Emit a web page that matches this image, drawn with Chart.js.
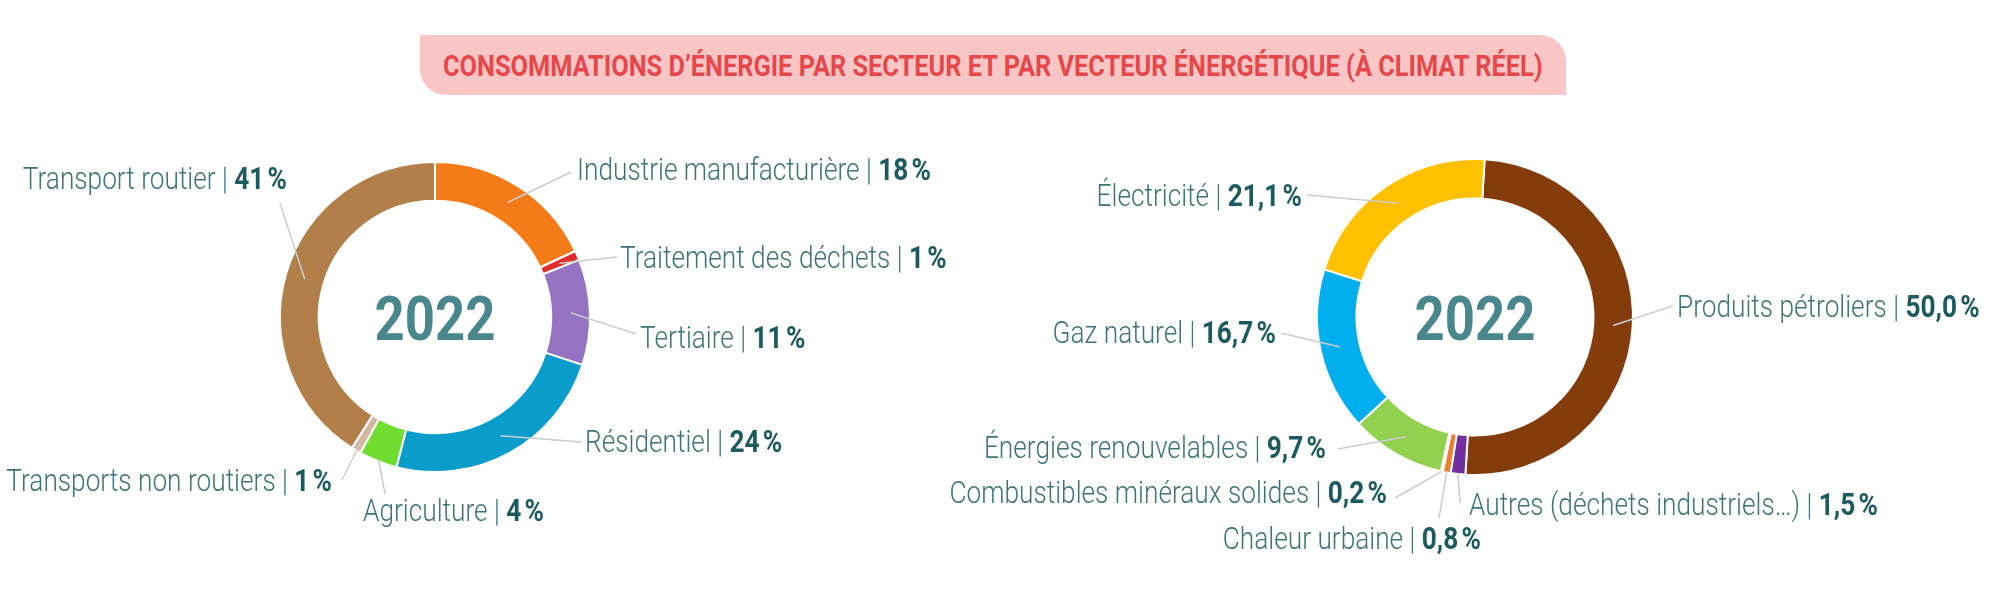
<!DOCTYPE html>
<html>
<head>
<meta charset="utf-8">
<script src="https://cdn.jsdelivr.net/npm/chart.js"></script>
<style>
  html, body { margin: 0; padding: 0; background: #fff; }
  #wrap { position: relative; width: 2000px; height: 601px; overflow: hidden; }
  #wrap canvas { position: absolute; left: 0; top: 0; }
  #title {
    position: absolute; left: 420px; top: 35px; width: 1146px; height: 60px;
    background: #f9c6c5; border-radius: 0 26px 0 26px;
    display: flex; align-items: center; justify-content: center; overflow: hidden;
  }
  #title span {
    display: inline-block; white-space: nowrap;
    font-family: Roboto, "Noto Sans", sans-serif; font-weight: 700; font-size: 30px;
    color: #e6474b; transform-origin: center center;
  }
</style>
</head>
<body>
<div id="wrap">
  <div id="title"><span>CONSOMMATIONS D’ÉNERGIE PAR SECTEUR ET PAR VECTEUR ÉNERGÉTIQUE (À CLIMAT RÉEL)</span></div>
  <canvas id="sectorChart" width="2000" height="601"></canvas>
  <canvas id="vectorChart" width="2000" height="601"></canvas>
</div>
<script>
// --- data ---
const yearLabel = '2022';

const sectorNames = ['Industrie manufacturière', 'Traitement des déchets', 'Tertiaire', 'Résidentiel',
  'Agriculture', 'Transports non routiers', 'Transport routier'];
const sectorValues = [18, 1, 11, 24, 4, 1, 41];

const vectorNames = ['Produits pétroliers', 'Autres (déchets industriels…)', 'Chaleur urbaine',
  'Combustibles minéraux solides', 'Énergies renouvelables', 'Gaz naturel', 'Électricité'];
const vectorValues = [50.0, 1.5, 0.8, 0.2, 9.7, 16.7, 21.1];

// --- styles ---
const sectorColors = ['#f47b17', '#e32b2b', '#9373c2', '#0a9dcb', '#70dd30', '#d3b7a0', '#b07f4a'];
const vectorColors = ['#843c0c', '#7030a0', '#ed7d31', '#c8c8c8', '#92d050', '#00aeef', '#ffc000'];

// label layout: [anchor x, baseline y, align, line start x, line start y, radial position of line end]
const sectorLayout = [
  [577, 180, 'left', 571, 172, 0.5],
  [620, 268, 'left', 617, 257, 0.5],
  [640, 348, 'left', 636, 334, 0.5],
  [585, 452, 'left', 582, 442, 0.5],
  [363, 521, 'left', 385, 494, 0.95],
  [332, 491, 'right', 342, 480, 0.8],
  [287, 189, 'right', 280, 203, 0.5]
];
const vectorLayout = [
  [1677, 317, 'left', 1673, 306, 0.5],
  [1469, 515, 'left', 1460, 503, 1],
  [1481, 549, 'right', 1439, 518, 1],
  [1387, 503, 'right', 1395, 498, 1],
  [1326, 458, 'right', 1338, 449, 0.5],
  [1276, 343, 'right', 1281, 333, 0.5],
  [1302, 206, 'right', 1307, 195, 0.5]
];

const LABEL_SCALE = 0.82;
const nameFont = '300 32px Roboto, "Noto Sans", sans-serif';
const valueFont = '700 32px Roboto, "Noto Sans", sans-serif';

function fmtValue(v, digits) {
  return v.toFixed(digits).replace('.', ',') + '\u202F%';
}

// Function to draw the centre year and the labels with leader lines
function makeLabelPlugin(names, values, layout, digits) {
  return {
    id: 'donutLabels',
    afterDraw(chart) {
      const ctx = chart.ctx;
      const arcs = chart.getDatasetMeta(0).data;

      // centre year
      const a0 = arcs[0];
      ctx.save();
      ctx.translate(a0.x, a0.y + 23);
      ctx.scale(0.85, 1);
      ctx.font = '700 62px Roboto, "Noto Sans", sans-serif';
      ctx.fillStyle = '#4a878c';
      ctx.textAlign = 'center';
      ctx.textBaseline = 'alphabetic';
      ctx.fillText(yearLabel, 0, 0);
      ctx.restore();

      arcs.forEach((arc, i) => {
        const [lx, ly, align, sx, sy, f] = layout[i];
        const p = arc.getProps(['x', 'y', 'startAngle', 'endAngle', 'innerRadius', 'outerRadius'], true);
        const mid = (p.startAngle + p.endAngle) / 2;
        const r = p.innerRadius + f * (p.outerRadius - p.innerRadius);

        // leader line
        ctx.save();
        ctx.strokeStyle = '#c9cdce';
        ctx.lineWidth = 1.5;
        ctx.beginPath();
        ctx.moveTo(sx, sy);
        ctx.lineTo(p.x + Math.cos(mid) * r, p.y + Math.sin(mid) * r);
        ctx.stroke();
        ctx.restore();

        // label text
        const namePart = names[i] + ' | ';
        const valuePart = fmtValue(values[i], digits);
        ctx.save();
        ctx.font = nameFont;
        const w1 = ctx.measureText(namePart).width;
        ctx.font = valueFont;
        const w2 = ctx.measureText(valuePart).width;
        ctx.translate(lx, ly);
        ctx.scale(LABEL_SCALE, 1);
        const startX = align === 'left' ? 0 : -(w1 + w2);
        ctx.textAlign = 'left';
        ctx.textBaseline = 'alphabetic';
        ctx.font = nameFont;
        ctx.fillStyle = '#3f7377';
        ctx.fillText(namePart, startX, 0);
        ctx.font = valueFont;
        ctx.fillStyle = '#1d5a5e';
        ctx.fillText(valuePart, startX + w1, 0);
        ctx.restore();
      });
    }
  };
}

function makeDonut(canvasId, names, values, colors, layout, digits, rotation, padding) {
  return new Chart(document.getElementById(canvasId), {
    type: 'doughnut',
    data: {
      labels: names,
      datasets: [{
        data: values,
        backgroundColor: colors,
        borderColor: '#ffffff',
        borderWidth: 2
      }]
    },
    options: {
      responsive: false,
      animation: false,
      cutout: '75%',
      rotation: rotation,
      layout: { padding: padding },
      plugins: {
        legend: { display: false },
        tooltip: { enabled: false }
      }
    },
    plugins: [makeLabelPlugin(names, values, layout, digits)]
  });
}

makeDonut('sectorChart', sectorNames, sectorValues, sectorColors, sectorLayout, 0, 0,
  { left: 279, top: 161, right: 1409, bottom: 128 });
makeDonut('vectorChart', vectorNames, vectorValues, vectorColors, vectorLayout, 1, 3.5,
  { left: 1316, top: 158, right: 366, bottom: 125 });

// squeeze the title to the width of the banner text
const titleSpan = document.querySelector('#title span');
titleSpan.style.transform = 'scaleX(' + (1100 / titleSpan.offsetWidth) + ')';
</script>
</body>
</html>
